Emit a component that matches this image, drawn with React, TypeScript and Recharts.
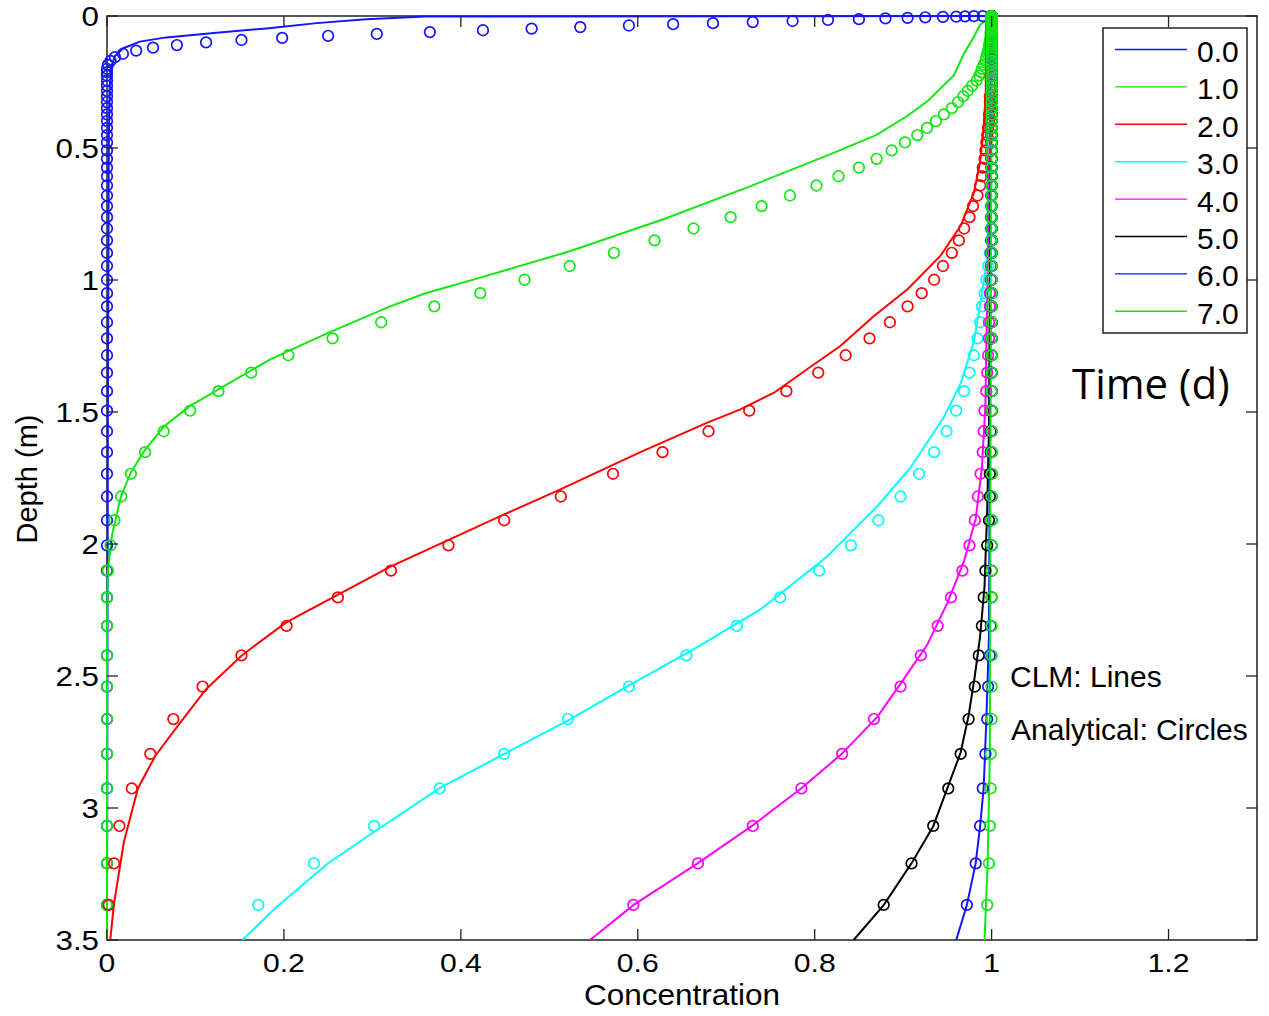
import React from 'react';
import { ScatterChart, Scatter, XAxis, YAxis, ReferenceArea } from 'recharts';

// depth grid (m) of the analytical solution
const DEPTH = [
  0.0003, 0.0008, 0.0015, 0.0025, 0.0035, 0.005, 0.007, 0.009, 0.012, 0.015,
  0.019, 0.023, 0.027, 0.031, 0.036, 0.042, 0.048, 0.054, 0.061, 0.068,
  0.075, 0.083, 0.091, 0.1, 0.11, 0.12, 0.131, 0.143, 0.156, 0.17,
  0.185, 0.2, 0.213, 0.226, 0.245, 0.264, 0.284, 0.304, 0.326, 0.349,
  0.373, 0.398, 0.424, 0.451, 0.479, 0.509, 0.541, 0.574, 0.607, 0.642,
  0.68, 0.72, 0.762, 0.805, 0.85, 0.897, 0.947, 0.999, 1.05, 1.1,
  1.16, 1.221, 1.285, 1.351, 1.421, 1.495, 1.573, 1.652, 1.734, 1.82,
  1.91, 2.005, 2.101, 2.202, 2.31, 2.422, 2.54, 2.663, 2.795, 2.926,
  3.068, 3.21, 3.367,
];

// analytical concentration at each DEPTH, one list per output time
const ANA_T0 = [
  0.99, 0.98, 0.97, 0.96, 0.945, 0.925, 0.905, 0.88, 0.85, 0.815,
  0.775, 0.73, 0.685, 0.64, 0.59, 0.535, 0.48, 0.425, 0.365, 0.305,
  0.25, 0.198, 0.152, 0.112, 0.079, 0.052, 0.033, 0.018, 0.009, 0.004,
  0.001, 0, 0, 0, 0, 0, 0, 0, 0, 0,
  0, 0, 0, 0, 0, 0, 0, 0, 0, 0,
  0, 0, 0, 0, 0, 0, 0, 0, 0, 0,
  0, 0, 0, 0, 0, 0, 0, 0, 0, 0,
  0, 0, 0, 0, 0, 0, 0, 0, 0, 0,
  0, 0, 0,
];
const ANA_T1 = [
  1, 1, 1, 1, 1, 1, 1, 1, 1, 1,
  1, 1, 1, 1, 1, 1, 1, 1, 0.999, 0.999,
  0.999, 0.999, 0.998, 0.998, 0.997, 0.997, 0.996, 0.995, 0.994, 0.993,
  0.991, 0.989, 0.988, 0.986, 0.983, 0.978, 0.973, 0.968, 0.962, 0.955,
  0.946, 0.937, 0.927, 0.916, 0.902, 0.887, 0.87, 0.85, 0.827, 0.802,
  0.772, 0.74, 0.705, 0.663, 0.619, 0.573, 0.523, 0.472, 0.422, 0.37,
  0.31, 0.255, 0.205, 0.163, 0.126, 0.094, 0.064, 0.043, 0.027, 0.016,
  0.0085, 0.004, 0.001, 0, 0, 0, 0, 0, 0, 0,
  0, 0, 0,
];
const ANA_T2 = [
  1, 1, 1, 1, 1, 1, 1, 1, 1, 1,
  1, 1, 1, 1, 1, 1, 1, 1, 1, 1,
  1, 1, 1, 1, 1, 1, 1, 1, 1, 1,
  1, 1, 1, 0.999, 0.999, 0.999, 0.999, 0.998, 0.998, 0.998,
  0.997, 0.997, 0.996, 0.995, 0.994, 0.993, 0.992, 0.99, 0.989, 0.987,
  0.984, 0.979, 0.975, 0.969, 0.963, 0.955, 0.945, 0.935, 0.921, 0.905,
  0.885, 0.862, 0.835, 0.804, 0.768, 0.726, 0.68, 0.628, 0.572, 0.513,
  0.449, 0.386, 0.321, 0.261, 0.203, 0.152, 0.108, 0.075, 0.049, 0.028,
  0.014, 0.008, 0.002,
];
const ANA_T3 = [
  1, 1, 1, 1, 1, 1, 1, 1, 1, 1,
  1, 1, 1, 1, 1, 1, 1, 1, 1, 1,
  1, 1, 1, 1, 1, 1, 1, 1, 1, 1,
  1, 1, 1, 1, 1, 1, 1, 1, 1, 1,
  1, 1, 1, 1, 1, 1, 1, 1, 1, 0.999,
  0.999, 0.999, 0.999, 0.999, 0.999, 0.998, 0.996, 0.994, 0.992, 0.989,
  0.987, 0.984, 0.98, 0.975, 0.969, 0.96, 0.949, 0.935, 0.918, 0.897,
  0.872, 0.841, 0.805, 0.761, 0.712, 0.655, 0.59, 0.521, 0.449, 0.376,
  0.302, 0.234, 0.171,
];
const ANA_T4 = [
  1, 1, 1, 1, 1, 1, 1, 1, 1, 1,
  1, 1, 1, 1, 1, 1, 1, 1, 1, 1,
  1, 1, 1, 1, 1, 1, 1, 1, 1, 1,
  1, 1, 1, 1, 1, 1, 1, 1, 1, 1,
  1, 1, 1, 1, 1, 1, 1, 1, 1, 1,
  1, 1, 1, 1, 1, 0.999, 0.999, 0.999, 0.998, 0.998,
  0.997, 0.997, 0.996, 0.995, 0.994, 0.992, 0.991, 0.99, 0.9875, 0.9845,
  0.981, 0.975, 0.967, 0.954, 0.939, 0.92, 0.897, 0.867, 0.831, 0.785,
  0.73, 0.668, 0.595,
];
const ANA_T5 = [
  1, 1, 1, 1, 1, 1, 1, 1, 1, 1,
  1, 1, 1, 1, 1, 1, 1, 1, 1, 1,
  1, 1, 1, 1, 1, 1, 1, 1, 1, 1,
  1, 1, 1, 1, 1, 1, 1, 1, 1, 1,
  1, 1, 1, 1, 1, 1, 1, 1, 1, 1,
  1, 1, 1, 1, 1, 1, 1, 1, 1, 1,
  1, 1, 1, 1, 1, 1, 0.999, 0.999, 0.998, 0.998,
  0.997, 0.995, 0.993, 0.991, 0.989, 0.9855, 0.981, 0.974, 0.965, 0.951,
  0.934, 0.9095, 0.878,
];
const ANA_T6 = [
  1, 1, 1, 1, 1, 1, 1, 1, 1, 1,
  1, 1, 1, 1, 1, 1, 1, 1, 1, 1,
  1, 1, 1, 1, 1, 1, 1, 1, 1, 1,
  1, 1, 1, 1, 1, 1, 1, 1, 1, 1,
  1, 1, 1, 1, 1, 1, 1, 1, 1, 1,
  1, 1, 1, 1, 1, 1, 1, 1, 1, 1,
  1, 1, 1, 1, 1, 1, 1, 1, 1, 1,
  1, 1, 1, 1, 0.999, 0.998, 0.996, 0.995, 0.993, 0.99,
  0.987, 0.982, 0.972,
];
const ANA_T7 = [
  1, 1, 1, 1, 1, 1, 1, 1, 1, 1,
  1, 1, 1, 1, 1, 1, 1, 1, 1, 1,
  1, 1, 1, 1, 1, 1, 1, 1, 1, 1,
  1, 1, 1, 1, 1, 1, 1, 1, 1, 1,
  1, 1, 1, 1, 1, 1, 1, 1, 1, 1,
  1, 1, 1, 1, 1, 1, 1, 1, 1, 1,
  1, 1, 1, 1, 1, 1, 1, 1, 1, 1,
  1, 1, 1, 1, 1, 1, 1, 1, 0.999, 0.999,
  0.998, 0.997, 0.995,
];

// CLM profiles: node depths (m) and concentrations
const CLM_T0_DEPTH = [0, 0.002, 0.012, 0.027, 0.047, 0.063, 0.081, 0.097, 0.122, 0.152, 0.19, 0.267, 0.5, 1.5, 3.5];
const CLM_T0_CONC = [1, 0.36, 0.293, 0.237, 0.18, 0.124, 0.067, 0.037, 0.0185, 0.009, 0.005, 0.003, 0.002, 0.001, 0];
const CLM_T1_DEPTH = [0, 0.034, 0.09, 0.148, 0.226, 0.321, 0.378, 0.45, 0.523, 0.649, 0.77, 0.89, 0.991, 1.05, 1.1, 1.2, 1.3, 1.377, 1.477, 1.556, 1.643, 1.729, 1.822, 1.966, 2.1, 2.3, 3.5];
const CLM_T1_CONC = [1, 0.987, 0.978, 0.968, 0.957, 0.928, 0.905, 0.87, 0.818, 0.724, 0.629, 0.524, 0.422, 0.36, 0.32, 0.25, 0.185, 0.145, 0.094, 0.064, 0.043, 0.027, 0.0155, 0.0057, 0.001, 0, 0];
const CLM_T2_DEPTH = [0, 0.32, 0.428, 0.553, 0.669, 0.795, 0.909, 1.035, 1.136, 1.25, 1.339, 1.427, 1.49, 1.541, 1.652, 1.797, 1.888, 2.085, 2.297, 2.423, 2.55, 2.681, 2.8, 2.925, 3.13, 3.368, 3.5];
const CLM_T2_CONC = [1, 0.993, 0.991, 0.987, 0.98, 0.965, 0.942, 0.905, 0.867, 0.829, 0.791, 0.754, 0.716, 0.678, 0.603, 0.51, 0.449, 0.321, 0.2025, 0.152, 0.112, 0.0817, 0.055, 0.035, 0.019, 0.0077, 0.0037];
const CLM_T3_DEPTH = [0, 0.9, 1.073, 1.232, 1.392, 1.52, 1.712, 1.856, 2.047, 2.247, 2.399, 2.539, 2.667, 2.795, 2.925, 3.088, 3.209, 3.374, 3.5];
const CLM_T3_CONC = [1, 0.996, 0.988, 0.98, 0.965, 0.946, 0.908, 0.871, 0.814, 0.739, 0.663, 0.588, 0.522, 0.449, 0.376, 0.303, 0.25, 0.192, 0.153];
const CLM_T4_DEPTH = [0, 1.073, 1.473, 1.712, 1.904, 2.063, 2.223, 2.383, 2.51, 2.654, 2.794, 2.925, 3.066, 3.209, 3.368, 3.5];
const CLM_T4_CONC = [1, 0.995, 0.993, 0.989, 0.982, 0.969, 0.95, 0.927, 0.901, 0.871, 0.831, 0.785, 0.73, 0.668, 0.595, 0.546];
const CLM_T5_DEPTH = [0, 1.56, 1.87, 2.16, 2.35, 2.5, 2.65, 2.79, 2.925, 3.069, 3.209, 3.368, 3.5];
const CLM_T5_CONC = [1, 0.997, 0.995, 0.992, 0.987, 0.981, 0.974, 0.965, 0.95, 0.934, 0.9095, 0.878, 0.844];
const CLM_T6_DEPTH = [0, 2.35, 2.67, 2.925, 3.069, 3.209, 3.368, 3.5];
const CLM_T6_CONC = [1, 0.997, 0.994, 0.991, 0.987, 0.982, 0.972, 0.96];
const CLM_T7_DEPTH = [0, 2.8, 3.21, 3.5];
const CLM_T7_CONC = [1, 0.998, 0.9955, 0.992];

const TIMES = ['0.0', '1.0', '2.0', '3.0', '4.0', '5.0', '6.0', '7.0'];
const COLORS = ['#1414ff', '#12e812', '#ff0000', '#00ffff', '#ff00ff', '#000000', '#1414ff', '#12e812'];
const ANA = [ANA_T0, ANA_T1, ANA_T2, ANA_T3, ANA_T4, ANA_T5, ANA_T6, ANA_T7];
const CLM_DEPTH = [CLM_T0_DEPTH, CLM_T1_DEPTH, CLM_T2_DEPTH, CLM_T3_DEPTH, CLM_T4_DEPTH, CLM_T5_DEPTH, CLM_T6_DEPTH, CLM_T7_DEPTH];
const CLM_CONC = [CLM_T0_CONC, CLM_T1_CONC, CLM_T2_CONC, CLM_T3_CONC, CLM_T4_CONC, CLM_T5_CONC, CLM_T6_CONC, CLM_T7_CONC];

const X_TICKS = [0, 0.2, 0.4, 0.6, 0.8, 1, 1.2];
const Y_TICKS = [0, 0.5, 1, 1.5, 2, 2.5, 3, 3.5];

// plot box, follows from the chart margins and axis sizes below
const W = 1269;
const H = 1016;
const LEFT = 107;
const RIGHT = 1257;
const TOP = 16;
const BOTTOM = 940;
const TICK = 11;
const AXIS = '#222';
const FONT = '"Liberation Sans", Arial, Helvetica, sans-serif';

const series = TIMES.map((name, i) => ({
  name,
  color: COLORS[i],
  circles: DEPTH.map((d, k) => ({ d, c: ANA[i][k] })),
  line: CLM_DEPTH[i].map((d, k) => ({ d, c: CLM_CONC[i][k] })),
}));

// matlab style: ticks point inwards and repeat on the opposite side
const XTick = (props: any) => {
  const { x, payload } = props;
  return (
    <g>
      <line x1={x} x2={x} y1={BOTTOM} y2={BOTTOM - TICK} stroke={AXIS} strokeWidth={1.3} />
      <line x1={x} x2={x} y1={TOP} y2={TOP + TICK} stroke={AXIS} strokeWidth={1.3} />
      <text transform={`translate(${x} 972) scale(1.16 1)`} textAnchor="middle" fontSize={26} fontFamily={FONT} fill="#000">
        {payload.value}
      </text>
    </g>
  );
};

const YTick = (props: any) => {
  const { y, payload } = props;
  return (
    <g>
      <line x1={LEFT} x2={LEFT + TICK} y1={y} y2={y} stroke={AXIS} strokeWidth={1.3} />
      <line x1={RIGHT} x2={RIGHT - TICK} y1={y} y2={y} stroke={AXIS} strokeWidth={1.3} />
      <text transform={`translate(99 ${y}) scale(1.16 1)`} dy="0.36em" textAnchor="end" fontSize={27} fontFamily={FONT} fill="#000">
        {payload.value}
      </text>
    </g>
  );
};

const ring = (color: string) => (p: any) => (
  <circle cx={p.cx} cy={p.cy} r={5.3} fill="none" stroke={color} strokeWidth={1.7} />
);
const noMark = () => null;

const App = () => {
  return (
    <div style={{ position: 'absolute', left: 0, top: 0, width: W, height: H, background: '#fff' }}>
      <ScatterChart width={W} height={H} margin={{ top: TOP, right: W - RIGHT, bottom: 0, left: 0 }}>
        <XAxis
          dataKey="c"
          type="number"
          domain={[0, 1.3]}
          ticks={X_TICKS}
          interval={0}
          height={H - BOTTOM}
          axisLine={false}
          tickLine={false}
          tick={(p: any) => <XTick {...p} />}
        />
        <YAxis
          dataKey="d"
          type="number"
          domain={[0, 3.5]}
          ticks={Y_TICKS}
          interval={0}
          reversed
          width={LEFT}
          axisLine={false}
          tickLine={false}
          tick={(p: any) => <YTick {...p} />}
        />
        <ReferenceArea x1={0} x2={1.3} y1={0} y2={3.5} fill="none" stroke={AXIS} strokeWidth={1.5} />
        {series.map((s) => (
          <Scatter
            key={`clm-${s.name}`}
            data={s.line}
            line={{ stroke: s.color, strokeWidth: 2 }}
            shape={noMark}
            isAnimationActive={false}
          />
        ))}
        {series.map((s) => (
          <Scatter
            key={`ana-${s.name}`}
            data={s.circles}
            shape={ring(s.color)}
            isAnimationActive={false}
          />
        ))}
      </ScatterChart>

      <svg width={W} height={H} style={{ position: 'absolute', left: 0, top: 0, pointerEvents: 'none' }}>
        <text transform="translate(37 479) rotate(-90)" textAnchor="middle" fontSize={29} fontFamily={FONT}>
          Depth (m)
        </text>
        <text transform="translate(682 1005) scale(1.05 1)" textAnchor="middle" fontSize={30} fontFamily={FONT}>
          Concentration
        </text>

        <rect x={1103} y={28} width={144} height={305} fill="#fff" stroke={AXIS} strokeWidth={1.5} />
        {series.map((s, i) => {
          const ry = 49.5 + i * 37.4;
          return (
            <g key={`leg-${s.name}`}>
              <line x1={1115} x2={1187} y1={ry} y2={ry} stroke={s.color} strokeWidth={1.4} />
              <text x={1197} y={ry + 12.5} fontSize={30} fontFamily={FONT}>
                {s.name}
              </text>
            </g>
          );
        })}

        <text x={1072} y={399} fontSize={42} fontFamily='"Open Sans", "Noto Sans", sans-serif'>
          Time (d)
        </text>
        <text x={1010} y={687} fontSize={30} fontFamily={FONT}>
          CLM: Lines
        </text>
        <text x={1011} y={740} fontSize={30} fontFamily={FONT}>
          Analytical: Circles
        </text>
      </svg>
    </div>
  );
};

export default App;
